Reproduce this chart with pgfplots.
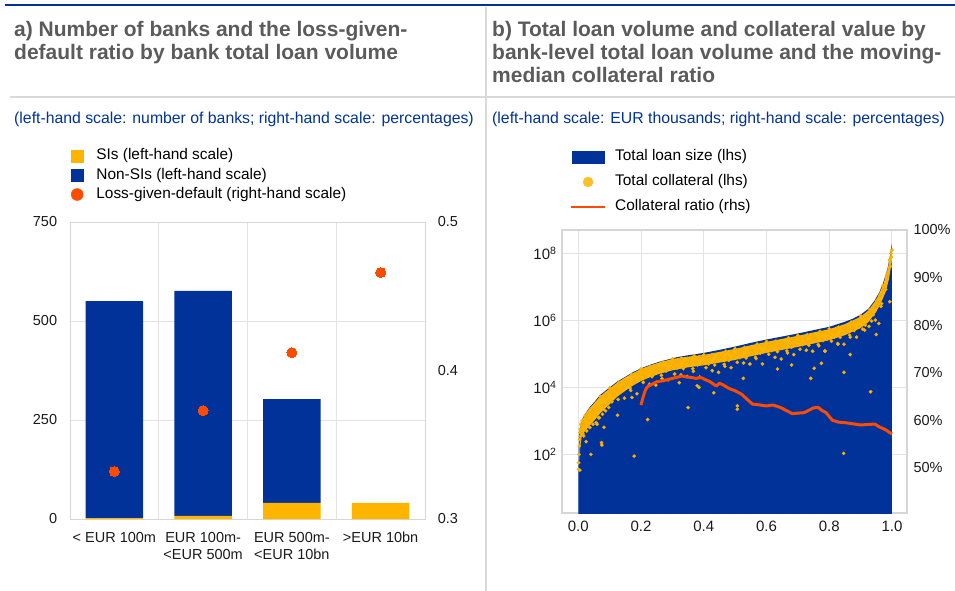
\documentclass[border=0pt]{standalone}
\usepackage{fontspec}
\setmainfont{Liberation Sans}
\usepackage{pgfplots}
\pgfplotsset{compat=1.18}
\usepackage{pgfplotstable}
\definecolor{ecbblue}{HTML}{003299}
\definecolor{siyellow}{HTML}{FFB400}
\definecolor{lgdred}{HTML}{FF4B00}
\definecolor{gridgray}{HTML}{E3E3E3}
\definecolor{boxgray}{HTML}{D6D6D6}
\definecolor{sepgray}{HTML}{D9D9D9}
\definecolor{titlegray}{HTML}{5B5B5B}
\definecolor{dotedge}{HTML}{EBA800}
\definecolor{tickcol}{HTML}{1A1A1A}

\pgfplotstableread{
x si nonsi lgd
0 2 548 0.332
1 8 568 0.373
2 41 262 0.412
3 41 0 0.466
}\banks

\pgfplotstableread[row sep=\\]{
x ly\\
0 0\\ 0 1.5\\ 0.002 2.6\\ 0.01 3.0\\ 0.02 3.18\\ 0.037 3.42\\ 0.05 3.55\\ 0.069 3.77\\ 0.1 4.0\\
0.125 4.18\\ 0.154 4.34\\ 0.175 4.46\\ 0.2 4.57\\ 0.23 4.68\\ 0.26 4.77\\ 0.313 4.90\\ 0.35 4.96\\
0.4 5.03\\ 0.45 5.12\\ 0.5 5.22\\ 0.55 5.33\\ 0.6 5.43\\ 0.65 5.52\\ 0.7 5.61\\ 0.75 5.71\\ 0.8 5.81\\
0.85 5.96\\ 0.875 6.05\\ 0.9 6.17\\ 0.925 6.35\\ 0.945 6.6\\ 0.96 6.85\\ 0.971 7.1\\ 0.98 7.35\\
0.987 7.6\\ 0.995 8.0\\ 1.0 8.3\\ 1.0 0\\
}\loan

\pgfplotstableread[row sep=\\]{
x ly\\
0.003 2.2\\ 0.006 2.7\\ 0.01 2.98\\ 0.02 3.16\\ 0.035 3.37\\ 0.05 3.52\\ 0.07 3.74\\ 0.1 3.97\\
0.125 4.15\\ 0.15 4.30\\ 0.175 4.43\\ 0.2 4.55\\ 0.23 4.66\\ 0.26 4.75\\ 0.3 4.85\\ 0.35 4.92\\
0.4 4.97\\ 0.45 5.06\\ 0.5 5.15\\ 0.55 5.26\\ 0.6 5.36\\ 0.65 5.45\\ 0.7 5.54\\ 0.75 5.64\\
0.8 5.74\\ 0.85 5.89\\ 0.9 6.11\\ 0.925 6.30\\ 0.95 6.62\\ 0.97 7.02\\ 0.98 7.30\\ 0.99 7.68\\
0.995 7.95\\ 1.0 8.15\\
1.0 7.8\\ 0.995 7.5\\ 0.99 7.22\\ 0.98 6.85\\ 0.97 6.63\\ 0.95 6.26\\ 0.925 5.95\\ 0.9 5.77\\
0.85 5.56\\ 0.8 5.41\\ 0.75 5.31\\ 0.7 5.21\\ 0.65 5.12\\ 0.6 5.03\\ 0.55 4.93\\ 0.5 4.82\\
0.45 4.74\\ 0.4 4.66\\ 0.35 4.60\\ 0.3 4.51\\ 0.26 4.41\\ 0.23 4.31\\ 0.2 4.19\\ 0.175 4.06\\
0.15 3.90\\ 0.125 3.73\\ 0.1 3.50\\ 0.07 3.23\\ 0.05 3.00\\ 0.035 2.85\\ 0.02 2.68\\ 0.01 2.5\\
0.006 2.2\\ 0.003 1.7\\
}\band

\pgfplotstableread[row sep=\\]{
x ly\\
0.001 1.55\\ 0.001 1.75\\ 0.002 2.0\\ 0.003 2.25\\ 0.004 2.45\\ 0.005 2.65\\ 0.006 2.75\\ 0.007 2.55\\
0.008 2.9\\ 0.012 3.0\\ 0.016 2.95\\ 0.022 3.15\\ 0.028 3.0\\
0.010 2.85\\ 0.015 2.61\\ 0.02 2.91\\ 0.025 3.13\\ 0.03 3.23\\ 0.035 2.82\\ 0.04 3.03\\ 0.045 3.26\\
0.05 3.34\\ 0.055 3.22\\ 0.06 3.34\\ 0.065 3.09\\ 0.07 3.72\\ 0.075 3.46\\ 0.08 3.35\\ 0.085 3.74\\
0.09 3.75\\ 0.095 3.52\\
0.10 3.98\\ 0.105 3.84\\ 0.11 3.97\\ 0.115 3.79\\ 0.12 3.96\\ 0.125 4.10\\ 0.13 4.15\\ 0.135 3.86\\
0.14 3.98\\ 0.145 4.13\\ 0.15 4.18\\ 0.155 4.09\\ 0.16 4.15\\ 0.165 3.98\\ 0.17 4.39\\ 0.175 4.22\\
0.18 4.15\\ 0.185 4.41\\ 0.19 4.41\\ 0.195 4.25\\ 0.20 4.55\\ 0.205 4.39\\ 0.21 4.51\\ 0.215 4.31\\
0.22 4.46\\ 0.225 4.58\\ 0.23 4.62\\ 0.235 4.32\\ 0.24 4.43\\ 0.245 4.57\\ 0.25 4.60\\ 0.255 4.50\\
0.26 4.55\\ 0.265 4.36\\ 0.27 4.75\\ 0.275 4.57\\ 0.28 4.49\\ 0.285 4.73\\ 0.29 4.72\\ 0.295 4.56\\
0.30 4.85\\ 0.305 4.68\\ 0.31 4.79\\ 0.315 4.58\\ 0.32 4.73\\ 0.325 4.84\\ 0.33 4.87\\ 0.335 4.56\\
0.34 4.66\\ 0.345 4.79\\ 0.35 4.82\\ 0.355 4.71\\ 0.36 4.75\\ 0.365 4.56\\ 0.37 4.95\\ 0.375 4.76\\
0.38 4.67\\ 0.385 4.91\\ 0.39 4.90\\ 0.395 4.72\\ 0.40 4.97\\ 0.405 4.80\\ 0.41 4.91\\ 0.415 4.70\\
0.42 4.85\\ 0.425 4.96\\ 0.43 4.98\\ 0.435 4.67\\ 0.44 4.78\\ 0.445 4.91\\ 0.45 4.94\\ 0.455 4.83\\
0.46 4.88\\ 0.465 4.69\\ 0.47 5.08\\ 0.475 4.89\\ 0.48 4.81\\ 0.485 5.05\\ 0.49 5.04\\ 0.495 4.87\\
0.50 5.16\\ 0.505 4.99\\ 0.51 5.10\\ 0.515 4.89\\ 0.52 5.04\\ 0.525 5.15\\ 0.53 5.19\\ 0.535 4.88\\
0.54 4.99\\ 0.545 5.12\\ 0.55 5.15\\ 0.555 5.04\\ 0.56 5.09\\ 0.565 4.90\\ 0.57 5.29\\ 0.575 5.10\\
0.58 5.02\\ 0.585 5.26\\ 0.59 5.25\\ 0.595 5.08\\ 0.60 5.37\\ 0.605 5.20\\ 0.61 5.31\\ 0.615 5.10\\
0.62 5.25\\ 0.625 5.36\\ 0.63 5.38\\ 0.635 5.07\\ 0.64 5.18\\ 0.645 5.31\\ 0.65 5.34\\ 0.655 5.23\\
0.66 5.28\\ 0.665 5.09\\ 0.67 5.48\\ 0.675 5.29\\ 0.68 5.20\\ 0.685 5.44\\ 0.69 5.43\\ 0.695 5.26\\
0.70 5.55\\ 0.705 5.38\\ 0.71 5.49\\ 0.715 5.28\\ 0.72 5.43\\ 0.725 5.54\\ 0.73 5.57\\ 0.735 5.26\\
0.74 5.37\\ 0.745 5.50\\ 0.75 5.53\\ 0.755 5.42\\ 0.76 5.47\\ 0.765 5.28\\ 0.77 5.67\\ 0.775 5.48\\
0.78 5.40\\ 0.785 5.64\\ 0.79 5.63\\ 0.795 5.46\\ 0.80 5.75\\ 0.805 5.59\\ 0.81 5.70\\ 0.815 5.50\\
0.82 5.65\\ 0.825 5.77\\ 0.83 5.80\\ 0.835 5.50\\ 0.84 5.61\\ 0.845 5.75\\ 0.85 5.78\\ 0.855 5.68\\
0.86 5.74\\ 0.865 5.56\\ 0.87 5.95\\ 0.875 5.77\\ 0.88 5.70\\ 0.885 5.96\\ 0.89 5.96\\ 0.895 5.81\\
0.90 6.14\\ 0.905 5.95\\ 0.91 6.11\\ 0.915 5.86\\ 0.92 6.08\\ 0.925 6.25\\ 0.93 6.32\\ 0.935 5.98\\
0.94 6.17\\ 0.945 6.39\\ 0.95 6.50\\ 0.955 6.43\\ 0.96 6.56\\ 0.965 6.42\\ 0.97 7.03\\ 0.975 6.91\\
0.98 6.92\\ 0.985 7.40\\ 0.99 7.56\\ 0.995 7.61\\ 1.0 8.1\\ 0.998 7.9\\ 0.997 8.0\\
0.992 7.8\\ 0.982 7.3\\ 0.972 7.0\\ 0.962 6.75\\ 0.952 6.6\\ 0.942 6.4\\ 0.932 6.2\\
0.107 3.57\\ 0.127 3.64\\ 0.147 3.68\\ 0.167 3.91\\ 0.187 3.81\\ 0.207 4.15\\ 0.227 4.09\\ 0.247 4.07\\
0.267 4.26\\ 0.287 4.23\\ 0.307 4.40\\ 0.327 4.37\\ 0.347 4.33\\ 0.367 4.48\\ 0.387 4.31\\ 0.407 4.59\\
0.427 4.50\\ 0.447 4.45\\ 0.467 4.63\\ 0.487 4.59\\ 0.507 4.75\\ 0.527 4.73\\ 0.547 4.70\\ 0.567 4.86\\
0.587 4.70\\ 0.607 4.99\\ 0.627 4.90\\ 0.647 4.85\\ 0.667 5.03\\ 0.687 4.98\\ 0.707 5.14\\ 0.727 5.11\\
0.747 5.08\\ 0.767 5.24\\ 0.787 5.08\\ 0.807 5.38\\ 0.827 5.31\\ 0.847 5.29\\ 0.867 5.50\\ 0.887 5.50\\
0.907 5.74\\ 0.927 5.82\\ 0.947 6.01\\ 0.967 6.50\\
0.017 2.55\\ 0.027 2.7\\ 0.037 2.8\\ 0.047 2.9\\ 0.057 2.95\\ 0.067 3.1\\ 0.077 3.2\\ 0.087 3.3\\ 0.097 3.4\\
0.178 1.95\\ 0.040 2.0\\ 0.074 2.35\\ 0.075 2.28\\ 0.082 2.81\\ 0.125 3.17\\ 0.221 3.04\\ 0.350 3.40\\
0.171 3.70\\ 0.322 4.14\\ 0.379 4.05\\ 0.385 4.0\\ 0.432 3.84\\ 0.507 3.45\\ 0.507 3.35\\ 0.526 4.27\\
0.635 4.55\\ 0.680 4.67\\ 0.741 4.27\\ 0.752 4.57\\ 0.775 4.72\\ 0.786 5.09\\ 0.847 4.45\\ 0.867 4.98\\
0.932 3.87\\ 0.846 2.03\\ 0.950 5.58\\ 0.958 5.91\\ 0.993 6.56\\ 0.913 5.71\\ 0.828 5.29\\ 0.025 2.38\\
0.005 1.53\\ 0.13 3.9\\ 0.06 2.9\\
}\coll

\pgfplotstableread[row sep=\\]{
x r\\
0.200 63.2\\ 0.205 64.5\\ 0.210 65.6\\ 0.215 66.5\\ 0.22 67.0\\ 0.23 67.4\\ 0.25 68.1\\ 0.27 68.3\\
0.30 68.8\\ 0.33 69.3\\ 0.345 69.1\\ 0.36 69.0\\ 0.375 68.8\\ 0.39 69.0\\ 0.40 68.7\\ 0.42 68.1\\
0.44 67.2\\ 0.45 67.8\\ 0.46 67.5\\ 0.48 66.7\\ 0.50 66.2\\ 0.52 65.5\\ 0.54 64.3\\ 0.555 63.4\\
0.57 63.3\\ 0.60 63.0\\ 0.62 63.2\\ 0.64 62.8\\ 0.65 62.5\\ 0.682 61.4\\ 0.70 61.5\\ 0.72 61.6\\
0.75 62.6\\ 0.765 62.7\\ 0.776 62.1\\ 0.79 61.6\\ 0.81 60.0\\ 0.83 59.6\\ 0.85 59.5\\ 0.871 59.3\\
0.90 59.0\\ 0.92 59.1\\ 0.945 59.2\\ 0.96 58.6\\ 0.98 58.0\\ 0.993 57.4\\ 1.00 57.1\\
}\ratio

\newcommand{\tickfont}{\fontsize{14.5pt}{16.7pt}\selectfont}
\newcommand{\legfont}{\fontsize{15.4pt}{17pt}\selectfont}
\newcommand{\titlefont}{\bfseries\fontsize{21pt}{23pt}\selectfont}

\begin{document}
\begin{tikzpicture}
\path[use as bounding box] (0pt,0pt) rectangle (955pt,-591pt);
\draw[ecbblue, line width=2pt] (5pt,-5.5pt) -- (955pt,-5.5pt);
\draw[sepgray, line width=1.5pt] (10pt,-97pt) -- (955pt,-97pt);
\draw[sepgray, line width=1.5pt] (486pt,-7pt) -- (486pt,-591pt);

\begin{scope}[every node/.style={anchor=base west, inner sep=0pt}]
\node[text=titlegray, font=\titlefont] at (14pt,-37pt) {a) Number of banks and the loss-given-};
\node[text=titlegray, font=\titlefont] at (14pt,-60pt) {default ratio by bank total loan volume};
\node[text=titlegray, font=\titlefont] at (492pt,-37pt) {b) Total loan volume and collateral value by};
\node[text=titlegray, font=\titlefont] at (492pt,-60pt) {bank-level total loan volume and the moving-};
\node[text=titlegray, font=\titlefont] at (492pt,-83pt) {median collateral ratio};
\node[text=ecbblue, font=\fontsize{15.8pt}{17pt}\selectfont] at (14pt,-124pt) {(left-hand scale: number of banks; right-hand scale: percentages)};
\node[text=ecbblue, font=\fontsize{15.8pt}{17pt}\selectfont] at (492pt,-124pt) {(left-hand scale: EUR thousands; right-hand scale: percentages)};
\end{scope}

% ---------------- panel a ----------------
\begin{axis}[
  at={(70pt,-519pt)}, anchor=south west, scale only axis,
  width=355pt, height=297pt,
  xmin=-0.5, xmax=3.5, ymin=0, ymax=750,
  ybar stacked, bar width=0.65,
  xtick={0,1,2,3},
  xticklabels={{< EUR 100m},{EUR 100m-\\<EUR 500m},{EUR 500m-\\<EUR 10bn},{>EUR 10bn}},
  xticklabel style={align=center, anchor=north, inner sep=0pt, yshift=-13pt, font=\tickfont, text=tickcol},
  ytick={0,250,500,750}, yticklabels={0,250,500,750},
  yticklabel style={anchor=east, inner sep=0pt, xshift=-12.7pt, font=\tickfont, text=tickcol},
  minor xtick={0.5,1.5,2.5}, xminorgrids=true, ymajorgrids=true, xmajorgrids=false,
  grid style={gridgray, line width=1pt}, minor grid style={gridgray, line width=1pt},
  axis line style={boxgray, line width=1pt},
  major tick length=0pt, minor tick length=0pt, tick style={draw=none},
  legend style={at={(0.0028,1.2468)}, anchor=north west, draw=none, fill=none,
    inner sep=0pt, outer sep=0pt, row sep=5.4pt, column sep=13pt, font=\legfont,
    nodes={inner sep=0pt, text height=11pt, text depth=3pt}},
  legend cell align=left,
]
\addplot[fill=siyellow, draw=none, forget plot] table[x=x, y=si]{\banks};
\addplot[fill=ecbblue, draw=none, forget plot] table[x=x, y=nonsi]{\banks};
\addlegendimage{legend image code/.code={\fill[siyellow] (0pt,-6pt) rectangle (12pt,6pt);}}
\addlegendentry{SIs (left-hand scale)}
\addlegendimage{legend image code/.code={\fill[ecbblue] (0pt,-6pt) rectangle (12pt,6pt);}}
\addlegendentry{Non-SIs (left-hand scale)}
\addlegendimage{legend image code/.code={\fill[lgdred] (6pt,0pt) circle (6pt);}}
\addlegendentry{Loss-given-default (right-hand scale)}
\end{axis}

\begin{axis}[
  at={(70pt,-519pt)}, anchor=south west, scale only axis,
  width=355pt, height=297pt,
  xmin=-0.5, xmax=3.5, ymin=0.3, ymax=0.5,
  axis x line=none, axis y line*=right,
  y axis line style={draw=none},
  ytick={0.3,0.4,0.5}, yticklabels={0.3,0.4,0.5},
  yticklabel style={anchor=west, inner sep=0pt, xshift=12.7pt, font=\tickfont, text=tickcol},
  major tick length=0pt, tick style={draw=none},
]
\addplot[lgdred, only marks, mark=*, mark size=5pt, mark options={fill=lgdred, draw=lgdred, line width=0pt}] table[x=x, y=lgd]{\banks};
\end{axis}

% ---------------- panel b ----------------
\begin{axis}[
  at={(562pt,-513pt)}, anchor=south west, scale only axis,
  width=345pt, height=283pt,
  xmin=-0.052, xmax=1.048, ymode=log, ymin=1.778, ymax=5.012e8,
  xtick={0,0.2,0.4,0.6,0.8,1}, xticklabels={0.0,0.2,0.4,0.6,0.8,1.0},
  xticklabel style={anchor=north, inner sep=0pt, yshift=-8pt, font=\fontsize{15pt}{17pt}\selectfont, text=tickcol},
  ytick={1e2,1e4,1e6,1e8},
  yticklabels={10\textsuperscript{2},10\textsuperscript{4},10\textsuperscript{6},10\textsuperscript{8}},
  yticklabel style={anchor=east, inner sep=0pt, xshift=-5.3pt, font=\fontsize{15pt}{17pt}\selectfont, text=tickcol},
  xmajorgrids=true, ymajorgrids=true, yminorgrids=false,
  grid style={gridgray, line width=1pt},
  axis line style={boxgray, line width=1.5pt},
  major tick length=0pt, minor tick length=0pt, tick style={draw=none},
  legend style={at={(0.0232,1.2827)}, anchor=north west, draw=none, fill=none,
    inner sep=0pt, outer sep=0pt, row sep=11pt, column sep=9pt, font=\legfont,
    nodes={inner sep=0pt, text height=11pt, text depth=3pt}},
  legend cell align=left,
]
\addplot[fill=ecbblue, draw=none, forget plot] table[x=x, y expr=10^\thisrow{ly}]{\loan};
\addplot[fill=siyellow, draw=none, forget plot] table[x=x, y expr=10^\thisrow{ly}]{\band};
\addplot[siyellow, only marks, mark=*, mark size=1.7pt, mark options={fill=siyellow, draw=dotedge, line width=0.3pt}, forget plot]
  table[x=x, y expr=10^\thisrow{ly}]{\coll};
\addlegendimage{legend image code/.code={\fill[ecbblue] (1pt,-6pt) rectangle (33pt,6pt);}}
\addlegendentry{Total loan size (lhs)}
\addlegendimage{legend image code/.code={\path[draw=none, fill=none] (0pt,0pt) -- (34pt,0pt); \fill[siyellow!85!white] (17pt,0pt) circle (5pt);}}
\addlegendentry{Total collateral (lhs)}
\addlegendimage{legend image code/.code={\draw[lgdred, line width=2.2pt] (0pt,0pt) -- (34pt,0pt);}}
\addlegendentry{Collateral ratio (rhs)}
\end{axis}

\begin{axis}[
  at={(562pt,-513pt)}, anchor=south west, scale only axis,
  width=345pt, height=283pt,
  xmin=-0.052, xmax=1.048, ymin=40.5, ymax=100,
  axis x line=none, axis y line*=right,
  y axis line style={draw=none},
  ytick={50,60,70,80,90,100}, yticklabels={50\%,60\%,70\%,80\%,90\%,100\%},
  yticklabel style={anchor=west, inner sep=0pt, xshift=6.3pt, font=\tickfont, text=tickcol},
  major tick length=0pt, tick style={draw=none},
]
\addplot[lgdred, line width=3pt, line join=round] table[x=x, y=r]{\ratio};
\end{axis}
\end{tikzpicture}
\end{document}
